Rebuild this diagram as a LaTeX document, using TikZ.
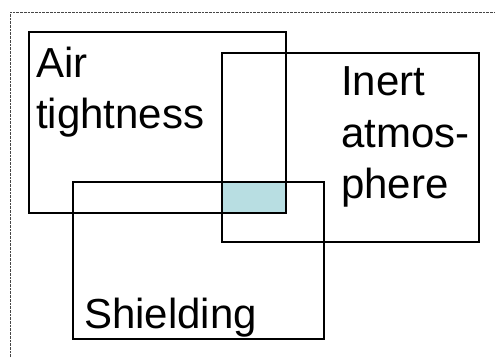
\documentclass[tikz,border=0pt]{standalone}
\usepackage{fontspec}
\setmainfont{Liberation Sans}
\definecolor{overlapblue}{RGB}{184,222,226}
\definecolor{framegray}{RGB}{70,70,70}
\begin{document}
\begin{tikzpicture}[x=1pt,y=-1pt,
  box/.style={draw=black,line width=2pt},
  lbl/.style={anchor=base west,inner sep=0pt,font=\fontsize{42}{50}\selectfont},
  frame/.style={draw=framegray,line width=1pt,dash pattern=on 2.7pt off 1pt}]
\useasboundingbox (0,0) rectangle (495,357);
\draw[frame] (10,357) -- (10,12) -- (495,12);
\fill[overlapblue] (222,182) rectangle (286,213);
\draw[box] (29,32) rectangle (286,213);
\draw[box] (222,53) rectangle (479,242);
\draw[box] (73,182) rectangle (324,339);
\node[lbl] (air1) at (36,77) {Air};
\node[lbl] (air2) at (36,128) {tightness};
\node[lbl] (in1) at (341,95) {Inert};
\node[lbl] (in2) at (341,147) {atmos-};
\node[lbl] (in3) at (341,198) {phere};
\node[lbl] (sh) at (84,328) {Shielding};
\end{tikzpicture}
\end{document}
